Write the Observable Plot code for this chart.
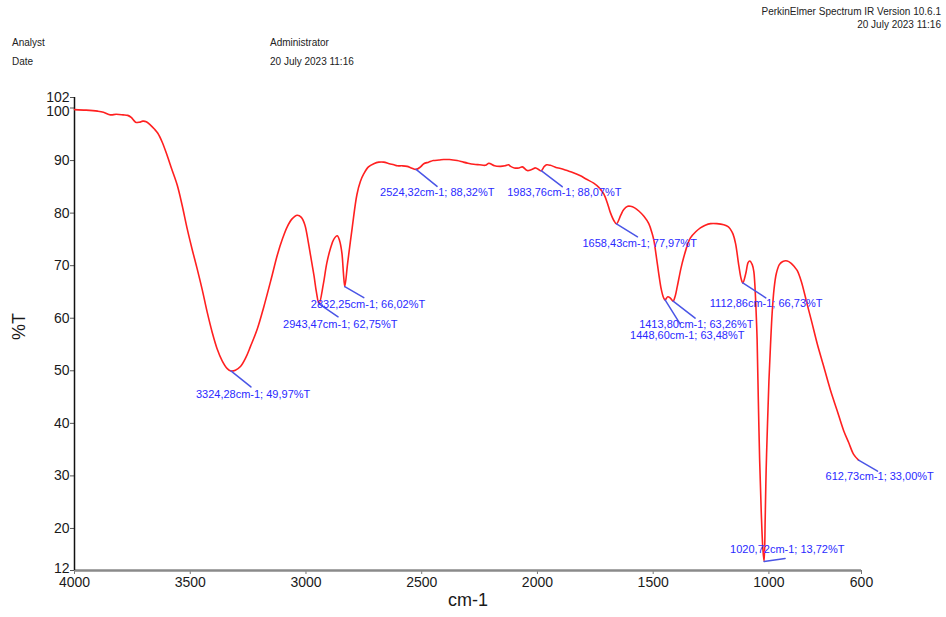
<!DOCTYPE html>
<html>
<head>
<meta charset="utf-8">
<script src="https://cdn.jsdelivr.net/npm/d3@7"></script>
<script src="https://cdn.jsdelivr.net/npm/@observablehq/plot@0.6"></script>
<style>
  body { margin: 0; background: #fff; font-family: "Liberation Sans", Arial, sans-serif; }
  #page { position: relative; width: 946px; height: 617px; overflow: hidden; background: #fff; }
  #header { position: relative; height: 80px; }
  .h { position: absolute; font-size: 10px; line-height: 12px; color: #222; white-space: nowrap; }
  #chart svg { display: block; }
</style>
</head>
<body>
<div id="page">
  <div id="header">
    <div class="h" style="right:5px;top:6px">PerkinElmer Spectrum IR Version 10.6.1</div>
    <div class="h" style="right:5px;top:19px">20 July 2023 11:16</div>
    <div class="h" style="left:12px;top:37px">Analyst</div>
    <div class="h" style="left:270px;top:37px">Administrator</div>
    <div class="h" style="left:12px;top:56px">Date</div>
    <div class="h" style="left:270px;top:56px">20 July 2023 11:16</div>
  </div>
  <div id="chart"></div>
</div>
<script>
// IR spectrum: wavenumber (cm-1) and transmittance (%T)
const wavenumber = [
  4000, 3950, 3900, 3875, 3845, 3820, 3790, 3770, 3755, 3736, 3720, 3705, 3690, 3675, 3655, 3640,
  3620, 3600, 3580, 3556, 3535, 3513, 3490, 3470, 3448, 3427, 3405, 3384, 3362, 3340, 3324.28, 3305,
  3283, 3260, 3240, 3210, 3182, 3150, 3124, 3100, 3081, 3060, 3038, 3020, 3005, 2990, 2980, 2965,
  2955, 2943.47, 2925, 2910, 2894, 2880, 2865, 2855, 2845, 2838, 2832.25, 2820, 2800, 2780, 2765, 2750,
  2730, 2707, 2685, 2664, 2640, 2620, 2606, 2585, 2563, 2545, 2524.32, 2505, 2491, 2470, 2450, 2425,
  2405, 2380, 2347, 2320, 2300, 2275, 2250, 2225, 2210, 2203, 2185, 2160, 2140, 2125, 2116, 2100,
  2080, 2065, 2044, 2025, 2008, 1995, 1983.76, 1970, 1960, 1944, 1920, 1900, 1872, 1845, 1814, 1790,
  1757, 1735, 1713, 1695, 1684, 1670, 1658.43, 1640, 1627, 1610, 1598, 1580, 1562, 1540, 1519, 1505,
  1497, 1485, 1476, 1465, 1455, 1448.60, 1437, 1425, 1413.80, 1405, 1396, 1380, 1368, 1350, 1339, 1315,
  1296, 1275, 1252, 1225, 1195, 1175, 1166, 1155, 1144, 1130, 1120, 1112.86, 1100, 1090, 1083, 1072,
  1065, 1061, 1056, 1051, 1046, 1040, 1033, 1026, 1020.72, 1016, 1012, 1006, 1000, 993, 986, 978,
  968, 955, 940, 921, 905, 890, 878, 860, 835, 815, 791, 765, 734, 705, 677, 655,
  634, 612.73
];
const transmittance = [
  99.7, 99.6, 99.4, 99.2, 98.7, 98.8, 98.7, 98.6, 98.2, 97.3, 97.3, 97.5, 97.4, 96.9, 96.0, 95.2,
  93.4, 91.0, 88.4, 85.3, 81.5, 77.0, 72.8, 69.4, 65.4, 61.2, 57.3, 54.2, 51.9, 50.4, 49.97, 50.1,
  50.8, 52.5, 54.6, 58.0, 62.2, 67.5, 72.0, 75.3, 77.4, 78.9, 79.6, 79.2, 77.8, 74.5, 71.9, 68.0,
  65.0, 62.75, 66.5, 70.5, 73.3, 75.0, 75.7, 74.8, 72.5, 68.5, 66.02, 70.5, 77.3, 83.5, 86.0, 87.5,
  88.8, 89.4, 89.7, 89.7, 89.4, 89.2, 89.0, 89.0, 88.9, 88.6, 88.32, 88.8, 89.4, 89.7, 90.0, 90.1,
  90.2, 90.2, 90.0, 89.7, 89.5, 89.3, 89.2, 89.1, 89.5, 89.4, 89.0, 88.9, 89.0, 89.2, 88.9, 88.6,
  88.6, 88.8, 88.1, 88.3, 88.6, 88.3, 88.07, 88.9, 89.2, 89.1, 88.7, 88.5, 88.1, 87.7, 87.1, 86.5,
  85.7, 84.9, 83.6, 81.5, 80.0, 78.6, 77.97, 79.6, 80.7, 81.3, 81.3, 81.0, 80.4, 79.4, 78.0, 76.2,
  74.8, 71.3, 68.5, 65.5, 63.9, 63.48, 64.1, 63.8, 63.26, 64.2, 66.0, 69.5, 71.6, 74.2, 75.3, 76.5,
  77.2, 77.7, 78.0, 78.0, 77.8, 77.4, 76.9, 76.0, 74.2, 70.0, 67.5, 66.73, 68.5, 70.6, 70.9, 70.2,
  68.8, 66.6, 62.0, 56.0, 45.0, 33.0, 23.0, 16.0, 13.72, 22.0, 31.0, 40.0, 48.0, 55.0, 61.0, 65.5,
  68.5, 70.2, 70.8, 70.9, 70.5, 69.8, 69.1, 67.0, 62.7, 59.3, 55.1, 51.1, 46.3, 42.4, 38.6, 36.3,
  34.1, 33.00
];

// Picked peaks
const peakWavenumber = [3324.28, 2943.47, 2832.25, 2524.32, 1983.76, 1658.43, 1448.60, 1413.80, 1112.86, 1020.72, 612.73];
const peakTransmittance = [49.97, 62.75, 66.02, 88.32, 88.07, 77.97, 63.48, 63.26, 66.73, 13.72, 33.00];

// Axis ticks
const xTicks = [4000, 3500, 3000, 2500, 2000, 1500, 1000, 600];
const yTicks = [12, 20, 30, 40, 50, 60, 70, 80, 90, 100, 102];

// Callout layout in pixels: leader end (lx, ly) and label anchor (tx, ty), relative to the peak
const calloutLayout = [
  {lx: 20, ly: 16, tx: -35, ty: 24},
  {lx: 19, ly: 13, tx: -36, ty: 21},
  {lx: 19, ly: 11, tx: -34, ty: 18},
  {lx: 21, ly: 17, tx: -36, ty: 23},
  {lx: 21, ly: 16, tx: -34, ty: 22},
  {lx: 21, ly: 13, tx: -34, ty: 20},
  {lx: 15, ly: 24, tx: -35, ty: 36},
  {lx: 22, ly: 17, tx: -34, ty: 23},
  {lx: 23, ly: 15, tx: -33, ty: 21},
  {lx: 21, ly: -3, tx: -34, ty: -12},
  {lx: 19, ly: 11, tx: -33, ty: 16}
];

const spectrum = wavenumber.map((w, i) => ({w, t: transmittance[i]}));
const comma = v => v.toFixed(2).replace(".", ",");
const peaks = peakWavenumber.map((w, i) => ({
  w, t: peakTransmittance[i],
  label: `${comma(w)}cm-1; ${comma(peakTransmittance[i])}%T`
}));

// A plain stroke, used as a leader line from the peak to its label
const leader = {draw(context, l) { context.moveTo(0, 0); context.lineTo(0, -l); }};

const callouts = peaks.flatMap((p, i) => {
  const c = calloutLayout[i];
  const length = Math.hypot(c.lx, c.ly);
  const rotate = Math.atan2(c.lx, -c.ly) * 180 / Math.PI;
  return [
    Plot.vector([p], {x: "w", y: "t", length, rotate, anchor: "start", shape: leader,
      stroke: "#4a55e6", strokeWidth: 1.5, fill: "none"}),
    Plot.text([p], {x: "w", y: "t", text: "label", dx: c.tx, dy: c.ty, textAnchor: "start",
      fill: "#2a2aff", fontSize: 11})
  ];
});

// Tick labels drawn apart from the axis so they can sit slightly off their ticks
const shiftedYLabels = [{v: 100, dy: 4}, {v: 12, dy: -2}];

const chart = Plot.plot({
  width: 946,
  height: 537,
  marginTop: 17,
  marginBottom: 47,
  marginLeft: 74,
  marginRight: 85,
  style: {fontFamily: '"Liberation Sans", Arial, sans-serif', fontSize: "14px", color: "#1a1a1a", background: "#fff"},
  x: {domain: [4000, 600], label: null},
  y: {domain: [12, 102], label: null},
  marks: [
    Plot.axisX({ticks: xTicks, tickFormat: d => String(d), tickSize: 4, tickPadding: 3, stroke: "#777", fontSize: 14}),
    Plot.axisY({ticks: yTicks, tickFormat: d => shiftedYLabels.some(s => s.v === d) ? "" : String(d),
      tickSize: 4, tickPadding: 1, stroke: "#555", fontSize: 14}),
    ...shiftedYLabels.map(s => Plot.text([s.v], {y: d => d, frameAnchor: "left", dx: -5, dy: s.dy,
      textAnchor: "end", text: d => String(d), fontSize: 14})),
    Plot.ruleY([12], {stroke: "#8a8a8a", strokeWidth: 2.5}),
    Plot.ruleX([4000], {stroke: "#111", strokeWidth: 1.5}),
    Plot.text(["%T"], {frameAnchor: "left", dx: -55, dy: 6, rotate: -90, fontSize: 18, fill: "#1a1a1a"}),
    Plot.text(["cm-1"], {frameAnchor: "bottom", dy: 35, fontSize: 18, fill: "#1a1a1a"}),
    Plot.line(spectrum, {x: "w", y: "t", stroke: "#ff2020", strokeWidth: 1.6, curve: "catmull-rom"}),
    ...callouts
  ]
});

document.getElementById("chart").append(chart);
</script>
</body>
</html>
